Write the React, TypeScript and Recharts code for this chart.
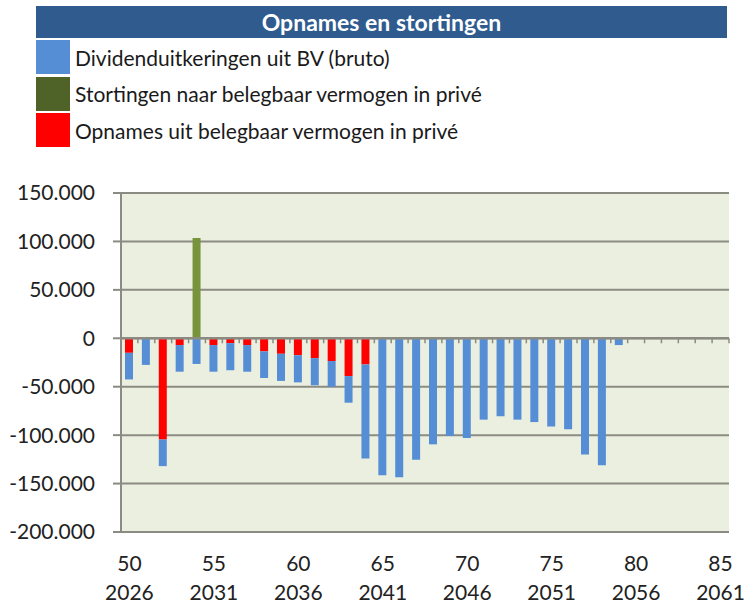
import React from "react";
import {
  BarChart,
  Bar,
  XAxis,
  YAxis,
  CartesianGrid,
  ReferenceLine,
} from "recharts";

const AGES = [
  50, 51, 52, 53, 54, 55, 56, 57, 58, 59, 60, 61, 62, 63, 64, 65, 66, 67,
  68, 69, 70, 71, 72, 73, 74, 75, 76, 77, 78, 79, 80, 81, 82, 83, 84, 85,
];
const YEARS = [
  2026, 2027, 2028, 2029, 2030, 2031, 2032, 2033, 2034, 2035, 2036, 2037,
  2038, 2039, 2040, 2041, 2042, 2043, 2044, 2045, 2046, 2047, 2048, 2049,
  2050, 2051, 2052, 2053, 2054, 2055, 2056, 2057, 2058, 2059, 2060, 2061,
];
// Dividenduitkeringen uit BV (bruto)
const DIVIDEND = [
  -27500, -27500, -27500, -27500, -26500, -27500, -28000, -27500, -27500,
  -28000, -28000, -28000, -26500, -27500, -97000, -141500, -143500, -125500,
  -109500, -101000, -103000, -84000, -80500, -84000, -86500, -91000, -94000,
  -120000, -131000, -7000, 0, 0, 0, 0, 0, 0,
];
// Stortingen naar belegbaar vermogen in privé
const STORTINGEN = [
  0, 0, 0, 0, 103500, 0, 0, 0, 0, 0, 0, 0, 0, 0, 0, 0, 0, 0, 0, 0, 0, 0, 0,
  0, 0, 0, 0, 0, 0, 0, 0, 0, 0, 0, 0, 0,
];
// Opnames uit belegbaar vermogen in privé
const OPNAMES = [
  -15000, 0, -104500, -7000, 0, -7000, -5000, -7000, -13500, -16000, -17500,
  -20500, -23500, -39000, -27000, 0, 0, 0, 0, 0, 0, 0, 0, 0, 0, 0, 0, 0, 0,
  0, 0, 0, 0, 0, 0, 0,
];
const Y_TICKS = [150000, 100000, 50000, 0, -50000, -100000, -150000, -200000];

const LEGEND = [
  { label: "Dividenduitkeringen uit BV (bruto)", color: "#558ed5" },
  { label: "Stortingen naar belegbaar vermogen in privé", color: "#4f6228" },
  { label: "Opnames uit belegbaar vermogen in privé", color: "#ff0000" },
];

const data = AGES.map((age, i) => ({
  age,
  year: YEARS[i],
  dividend: DIVIDEND[i],
  stortingen: STORTINGEN[i],
  opnames: OPNAMES[i],
}));

const FONT = "Lato, 'Open Sans', sans-serif";
const GRID = "#8b8b83";

const fmt = (v: number) => {
  const s = Math.abs(v).toString().replace(/\B(?=(\d{3})+(?!\d))/g, ".");
  return v < 0 ? "-" + s : s;
};

const AgeYearTick = (props: any) => {
  const { x, y, payload, index } = props;
  return (
    <text x={x} y={y} textAnchor="middle" fill="#222" fontSize={21} fontFamily={FONT}>
      <tspan x={x} dy={31}>{payload.value}</tspan>
      <tspan x={x} dy={29}>{YEARS[AGES.indexOf(payload.value)] ?? index}</tspan>
    </text>
  );
};

// zero line acts as the category axis, with tick marks between categories
const ZeroAxis = (props: any) => {
  const { x1, x2, y1 } = props;
  const step = (x2 - x1) / AGES.length;
  return (
    <g>
      <line x1={x1} x2={x2} y1={y1} y2={y1} stroke={GRID} strokeWidth={2.5} />
      {Array.from({ length: AGES.length + 1 }, (_, k) => (
        <line
          key={k}
          x1={x1 + k * step}
          x2={x1 + k * step}
          y1={y1}
          y2={y1 + 5}
          stroke={GRID}
          strokeWidth={1.5}
        />
      ))}
    </g>
  );
};

export default function App() {
  return (
    <div
      style={{
        position: "absolute",
        left: 0,
        top: 0,
        width: 744,
        height: 605,
        background: "#fff",
        fontFamily: FONT,
        overflow: "hidden",
      }}
    >
      {/* title bar */}
      <div
        style={{
          position: "absolute",
          left: 36,
          top: 6,
          width: 691,
          height: 32,
          background: "#2f5b8e",
          color: "#fff",
          fontWeight: 700,
          fontSize: 23,
          lineHeight: "32px",
          textAlign: "center",
        }}
      >
        Opnames en stortingen
      </div>

      {/* legend */}
      {LEGEND.map((l, i) => (
        <div
          key={l.label}
          style={{
            position: "absolute",
            left: 36,
            top: 40 + i * 36.5,
            height: 34,
            display: "flex",
            alignItems: "center",
          }}
        >
          <span style={{ width: 34, height: 34, background: l.color, display: "inline-block" }} />
          <span style={{ marginLeft: 5, fontSize: 21, color: "#1a1a1a", whiteSpace: "nowrap" }}>
            {l.label}
          </span>
        </div>
      ))}

      <div style={{ position: "absolute", left: 0, top: 0 }}>
        <BarChart
          width={744}
          height={605}
          data={data}
          stackOffset="sign"
          barSize={8}
          margin={{ top: 193, right: 15, bottom: 0, left: 21 }}
        >
          <CartesianGrid
            vertical={false}
            stroke={GRID}
            strokeWidth={2}
            fill="#ebefdf"
            fillOpacity={1}
          />
          <XAxis
            dataKey="age"
            height={73}
            axisLine={false}
            tickLine={false}
            interval={4}
            tick={<AgeYearTick />}
          />
          <YAxis
            width={100}
            domain={[-200000, 150000]}
            ticks={Y_TICKS}
            tickFormatter={fmt}
            axisLine={{ stroke: GRID, strokeWidth: 2 }}
            tickLine={{ stroke: GRID, strokeWidth: 2 }}
            tickSize={8}
            tickMargin={18}
            tick={{ fontSize: 21, fill: "#222", fontFamily: FONT }}
            allowDataOverflow
          />
          <Bar dataKey="opnames" stackId="a" fill="#ff0000" isAnimationActive={false} />
          <Bar dataKey="dividend" stackId="a" fill="#558ed5" isAnimationActive={false} />
          <Bar dataKey="stortingen" stackId="a" fill="#77933c" isAnimationActive={false} />
          <ReferenceLine y={0} shape={<ZeroAxis />} />
        </BarChart>
      </div>
    </div>
  );
}
